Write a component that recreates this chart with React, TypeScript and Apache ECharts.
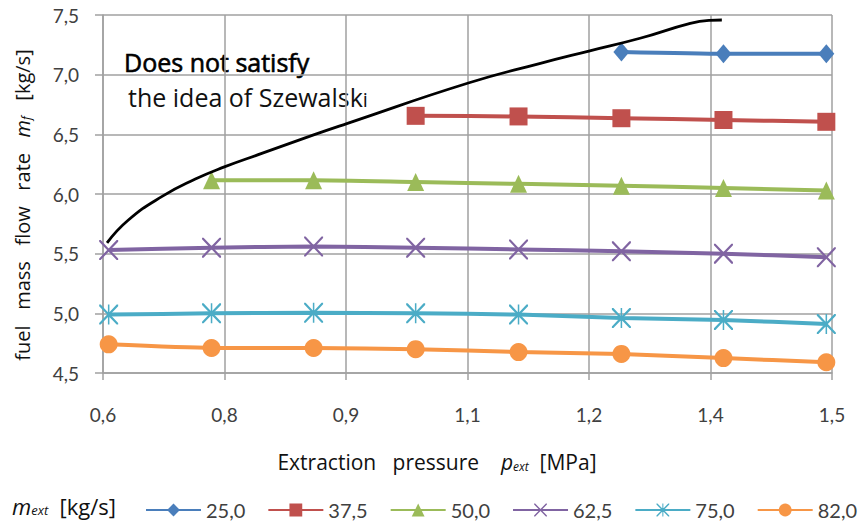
import React, { useEffect, useRef } from "react";
import * as echarts from "echarts";

const xValues = [0.607, 0.734, 0.86, 0.986, 1.113, 1.24, 1.366, 1.493];
const seriesNames = ["25,0", "37,5", "50,0", "62,5", "75,0", "82,0"];
const s25 = [null, null, null, null, null, 7.19, 7.175, 7.175];
const s375 = [null, null, null, 6.655, 6.65, 6.635, 6.62, 6.605];
const s50 = [null, 6.115, 6.115, 6.10, 6.085, 6.07, 6.05, 6.03];
const s625 = [5.53, 5.55, 5.56, 5.55, 5.535, 5.52, 5.50, 5.47];
const s75 = [4.99, 5.0, 5.005, 5.0, 4.99, 4.96, 4.945, 4.91];
const s82 = [4.74, 4.71, 4.71, 4.70, 4.675, 4.66, 4.625, 4.59];
const limitX = [0.605, 0.631, 0.673, 0.714, 0.749, 0.796, 0.86, 0.901, 1.051, 1.14, 1.201, 1.263, 1.325, 1.349, 1.364];
const limitY = [5.59, 5.78, 5.98, 6.125, 6.225, 6.34, 6.495, 6.59, 6.93, 7.095, 7.2, 7.305, 7.43, 7.455, 7.458];

const colors = ["#4A7EBB", "#C0504D", "#9BBB59", "#8064A2", "#4BACC6", "#F79646"];
const X_PATH =
  "path://M0,0 L1.6,0 L10,8.4 L18.4,0 L20,0 L20,1.6 L11.6,10 L20,18.4 L20,20 L18.4,20 L10,11.6 L1.6,20 L0,20 L0,18.4 L8.4,10 L0,1.6 Z";
const STAR_PATH = X_PATH + " M9.2,0 L10.8,0 L10.8,20 L9.2,20 Z";
const symbols = ["diamond", "rect", "triangle", X_PATH, STAR_PATH, "circle"];
const symbolSizes: any[] = [[16, 19], 18, [17, 18], [19, 20], [19, 20], 18];
const allData = [s25, s375, s50, s625, s75, s82];

const FONT = "Lato, 'Open Sans', sans-serif";
const FONT2 = "'Open Sans', Lato, sans-serif";

export default function App() {
  const ref = useRef<HTMLDivElement>(null);
  useEffect(() => {
    if (!ref.current) return;
    const chart = echarts.init(ref.current, null, { renderer: "svg" });
    const fmt = (v: number) => (Math.round(v * 10 + 1e-6) / 10).toFixed(1).replace(".", ",");
    const series: any[] = allData.map((arr, i) => ({
      name: seriesNames[i],
      type: "line",
      smooth: 0.2,
      data: xValues.map((x, k) => (arr[k] == null ? null : [x, arr[k]])).filter((d) => d !== null),
      symbol: symbols[i],
      symbolSize: symbolSizes[i],
      showAllSymbol: true,
      lineStyle: { color: colors[i], width: 4 },
      itemStyle: { color: colors[i] },
      z: 3,
    }));
    series.push({
      name: "limit",
      type: "line",
      smooth: true,
      data: limitX.map((x, k) => [x, limitY[k]]),
      symbol: "none",
      lineStyle: { color: "#000", width: 2.8 },
      z: 4,
    });
    const gridColor = "#a0a0a0";
    chart.setOption({
      animation: false,
      textStyle: { fontFamily: FONT },
      grid: { left: 103, right: 33, top: 15, bottom: 150 },
      xAxis: {
        type: "value",
        min: 0.6,
        max: 1.5,
        interval: 0.15,
        axisLine: { show: true, lineStyle: { color: gridColor, width: 1.5 } },
        axisTick: { show: true, inside: false, length: 7, lineStyle: { color: gridColor, width: 1.5 } },
        splitLine: { show: true, lineStyle: { color: gridColor, width: 1.5 } },
        axisLabel: { formatter: fmt, fontSize: 19, color: "#404040", margin: 32, fontFamily: FONT },
      },
      yAxis: {
        type: "value",
        min: 4.5,
        max: 7.5,
        interval: 0.5,
        axisLine: { show: true, lineStyle: { color: gridColor, width: 1.5 } },
        axisTick: { show: true, inside: false, length: 8, lineStyle: { color: gridColor, width: 1.5 } },
        splitLine: { show: true, lineStyle: { color: gridColor, width: 1.5 } },
        axisLabel: { formatter: fmt, fontSize: 19, color: "#404040", margin: 24, fontFamily: FONT },
      },
      legend: {
        data: seriesNames,
        left: 145,
        top: 500,
        padding: 0,
        itemWidth: 55,
        itemHeight: 16,
        itemGap: 22,
        textStyle: { fontSize: 20, color: "#404040", fontFamily: FONT },
      },
      graphic: [
        {
          type: "text",
          x: 22,
          y: 205,
          rotation: Math.PI / 2,
          style: {
            text: "fuel   mass   flow   rate   {i|m}{sub|f}   [kg/s]",
            fontSize: 20,
            fontFamily: FONT2,
            fill: "#111",
            align: "center",
            verticalAlign: "middle",
            rich: {
              i: { fontStyle: "italic", fontSize: 20, fontFamily: FONT2, fill: "#111" },
              sub: { fontStyle: "italic", fontSize: 12, fontFamily: FONT2, fill: "#111", padding: [8, 0, 0, 0] },
            },
          },
        },
        {
          type: "text",
          x: 437,
          y: 462,
          style: {
            text: "Extraction   pressure    {i|p}{sub|ext}  [MPa]",
            fontSize: 21,
            fontFamily: FONT2,
            fill: "#111",
            align: "center",
            verticalAlign: "middle",
            rich: {
              i: { fontStyle: "italic", fontSize: 21, fontFamily: FONT2, fill: "#111" },
              sub: { fontStyle: "italic", fontSize: 12, fontFamily: FONT2, fill: "#111", padding: [8, 0, 0, 0] },
            },
          },
        },
        {
          type: "text",
          x: 12,
          y: 506,
          style: {
            text: "{i|m}{sub|ext}  [kg/s]",
            fontSize: 22,
            fontFamily: FONT2,
            fill: "#111",
            align: "left",
            verticalAlign: "middle",
            rich: {
              i: { fontStyle: "italic", fontSize: 22, fontFamily: FONT2, fill: "#111" },
              sub: { fontStyle: "italic", fontSize: 13, fontFamily: FONT2, fill: "#111", padding: [8, 0, 0, 0] },
            },
          },
        },
        {
          type: "text",
          x: 124,
          y: 62,
          style: {
            text: "Does not satisfy",
            fontSize: 25,
            fontFamily: FONT2,
            fill: "#000",
            stroke: "#000",
            lineWidth: 0.6,
            align: "left",
            verticalAlign: "middle",
          },
        },
        {
          type: "text",
          x: 128,
          y: 97,
          style: {
            text: "the idea of Szewalsk{s|i}",
            fontSize: 25,
            fontFamily: FONT2,
            fill: "#111",
            align: "left",
            verticalAlign: "middle",
            rich: { s: { fontSize: 20, fontFamily: FONT2, fill: "#111", padding: [5, 0, 0, 0] } },
          },
        },
      ],
      series,
    });
    return () => chart.dispose();
  }, []);
  return <div ref={ref} style={{ width: 865, height: 523, position: "absolute", left: 0, top: 0 }} />;
}
